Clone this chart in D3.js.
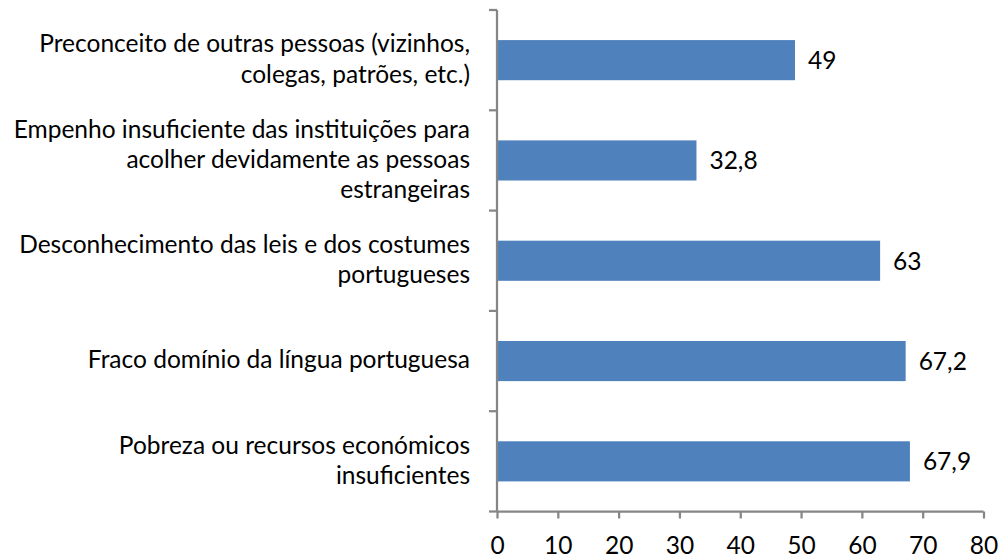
<!DOCTYPE html>
<html>
<head>
<meta charset="utf-8">
<script src="https://cdn.jsdelivr.net/npm/d3@7"></script>
<style>
  html, body { margin: 0; padding: 0; background: #fff; }
  svg text { font-family: Lato, "Open Sans", sans-serif; fill: #000; }
</style>
</head>
<body>
<svg id="chart" width="999" height="559"></svg>
<script>
// Category labels (top to bottom), with their line breaks
const categories = [
  ["Preconceito de outras pessoas (vizinhos,", "colegas, patrões, etc.)"],
  ["Empenho insuficiente das instituições para", "acolher devidamente as pessoas", "estrangeiras"],
  ["Desconhecimento das leis e dos costumes", "portugueses"],
  ["Fraco domínio da língua portuguesa"],
  ["Pobreza ou recursos económicos", "insuficientes"]
];
const values = [49, 32.8, 63, 67.2, 67.9];
const valueLabels = ["49", "32,8", "63", "67,2", "67,9"];
const xTicks = [0, 10, 20, 30, 40, 50, 60, 70, 80];

const svg = d3.select("#chart");
const plotLeft = 497, plotRight = 983.5, plotTop = 10, plotBottom = 511.5;
const axisColor = "#868686";
const fontSize = 24.5;

const x = d3.scaleLinear().domain([0, 80]).range([plotLeft, plotRight]);
const y = d3.scaleBand().domain(d3.range(categories.length)).range([plotTop, plotBottom])
  .paddingInner(0.6).paddingOuter(0.3);

// Bars
svg.append("g").selectAll("rect").data(values).join("rect")
  .attr("x", x(0))
  .attr("y", (d, i) => y(i))
  .attr("width", d => x(d) - x(0))
  .attr("height", y.bandwidth())
  .attr("fill", "#4F81BD");

// Value labels
svg.append("g").selectAll("text").data(values).join("text")
  .attr("x", d => x(d) + 13)
  .attr("y", (d, i) => y(i) + y.bandwidth() / 2)
  .attr("dy", "0.36em")
  .attr("font-size", fontSize)
  .text((d, i) => valueLabels[i]);

// X axis
const xAxis = svg.append("g").attr("transform", `translate(0,${plotBottom})`)
  .call(d3.axisBottom(x).tickValues(xTicks).tickSize(7).tickPadding(18).tickFormat(d3.format("d")));
xAxis.select(".domain").attr("stroke", axisColor).attr("stroke-width", 2.25)
  .attr("d", `M${plotLeft},0H${plotRight}`);
xAxis.selectAll(".tick line").attr("stroke", axisColor).attr("stroke-width", 2.25);
xAxis.selectAll(".tick text").attr("font-size", fontSize).attr("font-family", "Lato, sans-serif").attr("fill", "#000");

// Y axis: boundary ticks between categories
const yEdges = d3.range(categories.length + 1).map(i => plotTop + i * y.step());
const yAxis = svg.append("g");
yAxis.append("line").attr("x1", plotLeft).attr("x2", plotLeft).attr("y1", plotTop).attr("y2", plotBottom)
  .attr("stroke", axisColor).attr("stroke-width", 2.25);
yAxis.selectAll("line.tk").data(yEdges).join("line").attr("class", "tk")
  .attr("x1", plotLeft - 8).attr("x2", plotLeft).attr("y1", d => d).attr("y2", d => d)
  .attr("stroke", axisColor).attr("stroke-width", 2.25);

// Category labels
const lineH = 30.3;
const labels = svg.append("g").selectAll("text").data(categories).join("text")
  .attr("text-anchor", "end")
  .attr("font-size", fontSize)
  .attr("y", (d, i) => y(i) + y.bandwidth() / 2 - (d.length - 1) * lineH / 2);
labels.each(function(lines) {
  const t = d3.select(this);
  lines.forEach((ln, k) => {
    t.append("tspan").attr("x", 470).attr("dy", k === 0 ? "0.3em" : lineH).text(ln);
  });
});
</script>
</body>
</html>
